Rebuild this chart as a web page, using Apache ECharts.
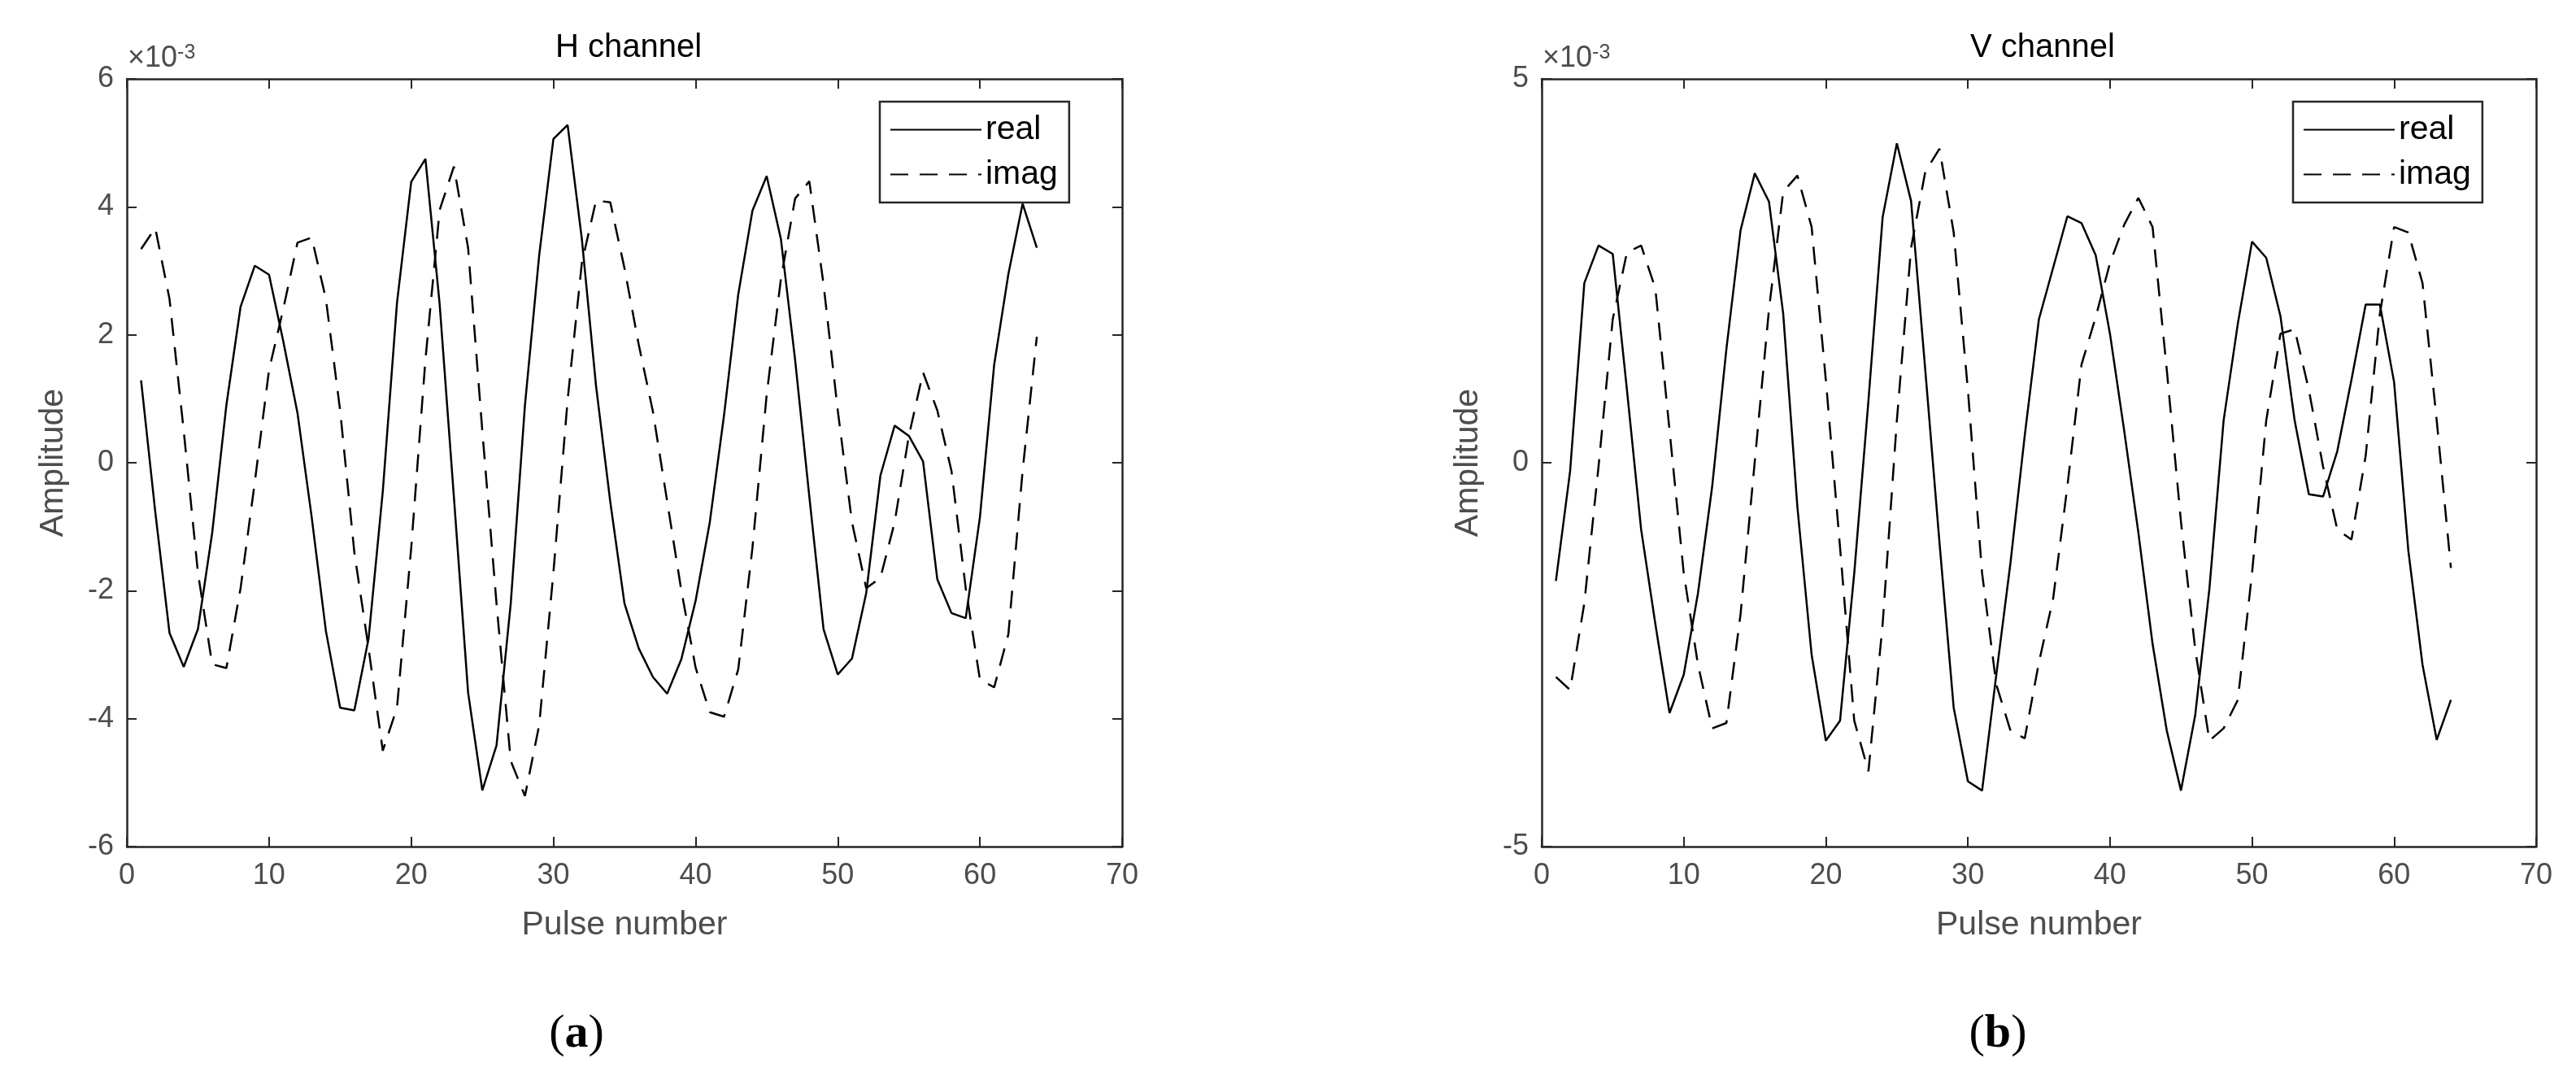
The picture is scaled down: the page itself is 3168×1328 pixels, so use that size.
<!DOCTYPE html>
<html>
<head>
<meta charset="utf-8">
<script src="https://cdn.jsdelivr.net/npm/echarts@6/dist/echarts.min.js"></script>
<style>html,body{margin:0;background:#fff}#c{width:3168px;height:1328px}</style>
</head>
<body>
<div id="c"></div>
<script>
// amplitudes in units of 1e-3
const pulses = Array.from({ length: 64 }, (_, i) => i + 1);

const hReal = [1.29, -0.77, -2.66, -3.19, -2.6, -1.1, 0.9, 2.44, 3.08, 2.94, 1.9, 0.78, -0.85, -2.63, -3.83, -3.87,
  -2.75, -0.45, 2.5, 4.39, 4.75, 2.48, -0.53, -3.59, -5.12, -4.42, -2.2, 0.9, 3.24, 5.06, 5.28, 3.5,
  1.2, -0.61, -2.2, -2.9, -3.35, -3.61, -3.07, -2.16, -0.93, 0.74, 2.63, 3.94, 4.48, 3.5, 1.61, -0.53,
  -2.6, -3.31, -3.06, -2.04, -0.2, 0.58, 0.42, 0.02, -1.82, -2.35, -2.43, -0.85, 1.53, 2.95, 4.05, 3.36];
const hImag = [3.34, 3.67, 2.56, 0.5, -1.72, -3.15, -3.21, -1.96, -0.3, 1.45, 2.4, 3.44, 3.52, 2.56, 0.82, -1.4,
  -2.9, -4.5, -3.83, -1.33, 1.61, 3.95, 4.63, 3.36, 0.5, -2.2, -4.66, -5.21, -4.1, -1.72, 0.98, 3.12,
  4.1, 4.07, 3.04, 1.85, 0.8, -0.6, -2.0, -3.2, -3.9, -3.97, -3.23, -1.33, 1.06, 2.87, 4.13, 4.4,
  2.79, 0.82, -0.93, -1.96, -1.8, -0.93, 0.42, 1.41, 0.82, -0.13, -1.96, -3.39, -3.51, -2.68, -0.13, 1.97];

const vReal = [-1.54, -0.11, 2.34, 2.83, 2.72, 0.95, -0.87, -2.1, -3.26, -2.76, -1.7, -0.31, 1.48, 3.03, 3.77, 3.4,
  1.94, -0.58, -2.5, -3.62, -3.36, -1.44, 0.81, 3.2, 4.16, 3.41, 1.21, -1.04, -3.19, -4.15, -4.27, -2.76,
  -1.3, 0.35, 1.87, 2.54, 3.21, 3.12, 2.7, 1.68, 0.42, -0.91, -2.36, -3.49, -4.27, -3.29, -1.64, 0.55,
  1.81, 2.88, 2.67, 1.91, 0.55, -0.41, -0.44, 0.15, 1.08, 2.06, 2.06, 1.05, -1.14, -2.63, -3.61, -3.09];
const vImag = [-2.79, -2.96, -1.83, -0.05, 1.87, 2.74, 2.83, 2.27, 0.42, -1.44, -2.63, -3.46, -3.39, -1.97, 0.02, 2.0,
  3.53, 3.74, 3.07, 1.08, -1.1, -3.36, -4.02, -2.1, 0.55, 2.8, 3.79, 4.09, 3.0, 0.95, -1.44, -2.89,
  -3.49, -3.59, -2.6, -1.77, -0.31, 1.28, 1.9, 2.6, 3.1, 3.45, 3.07, 1.21, -0.77, -2.43, -3.62, -3.46,
  -3.09, -1.44, 0.55, 1.68, 1.74, 0.95, -0.05, -0.87, -1.0, 0.09, 1.94, 3.07, 3.0, 2.34, 0.55, -1.37];

const ink = '#262626';
const gray = '#4d4d4d';
const font = 'Arial, "Liberation Sans", Helvetica, sans-serif';

const grids = [
  { left: 156, width: 1224, top: 97, height: 944 },
  { left: 1896, width: 1223, top: 97, height: 944 }
];

const xAxes = [];
const yAxes = [];
const series = [];

function addPanel(gi, yMin, yMax, yStep, real, imag) {
  const tick = { show: true, inside: true, length: 12, lineStyle: { color: ink, width: 2 } };
  const line = { show: true, onZero: false, lineStyle: { color: ink, width: 2.5 } };
  xAxes.push({
    gridIndex: gi, type: 'value', min: 0, max: 70, interval: 10, position: 'bottom',
    name: 'Pulse number', nameLocation: 'middle', nameGap: 76,
    nameTextStyle: { color: gray, fontSize: 41, fontFamily: font },
    axisLine: line, axisTick: tick, splitLine: { show: false },
    axisLabel: { color: gray, fontSize: 36, fontFamily: font, margin: 18 }
  });
  xAxes.push({
    gridIndex: gi, type: 'value', min: 0, max: 70, interval: 10, position: 'top',
    axisLine: line, axisTick: tick, splitLine: { show: false }, axisLabel: { show: false }
  });
  yAxes.push({
    gridIndex: gi, type: 'value', min: yMin, max: yMax, interval: yStep, position: 'left',
    name: 'Amplitude', nameLocation: 'middle', nameGap: 70,
    nameTextStyle: { color: gray, fontSize: 41, fontFamily: font },
    axisLine: line, axisTick: tick, splitLine: { show: false },
    axisLabel: { color: gray, fontSize: 36, fontFamily: font, margin: 16 }
  });
  yAxes.push({
    gridIndex: gi, type: 'value', min: yMin, max: yMax, interval: yStep, position: 'right',
    axisLine: line, axisTick: tick, splitLine: { show: false }, axisLabel: { show: false }
  });
  const xi = gi * 2, yi = gi * 2;
  series.push({
    name: 'real', type: 'line', xAxisIndex: xi, yAxisIndex: yi, showSymbol: false, symbol: 'none',
    data: pulses.map((p, i) => [p, real[i]]),
    lineStyle: { color: '#000', width: 2.5, type: 'solid' }, itemStyle: { color: '#000' }
  });
  series.push({
    name: 'imag', type: 'line', xAxisIndex: xi, yAxisIndex: yi, showSymbol: false, symbol: 'none',
    data: pulses.map((p, i) => [p, imag[i]]),
    lineStyle: { color: '#000', width: 2.5, type: [22, 14] }, itemStyle: { color: '#000' }
  });
}

addPanel(0, -6, 6, 2, hReal, hImag);
addPanel(1, -5, 5, 5, vReal, vImag);

const legendBase = {
  orient: 'vertical', top: 125, itemWidth: 112, itemHeight: 14, itemGap: 14,
  padding: [14, 14, 14, 12], borderColor: ink, borderWidth: 2.5, backgroundColor: '#fff',
  itemStyle: { opacity: 0 },
  textStyle: { color: '#000', fontSize: 41, fontFamily: font },
  data: ['real', 'imag']
};

const sup = {
  rich: {
    b: { fontSize: 36, color: gray, fontFamily: font, fontWeight: 'normal' },
    s: { fontSize: 25, color: gray, fontFamily: font, fontWeight: 'normal', verticalAlign: 'top', padding: [0, 0, 14, 0] }
  }
};

const serif = '"Liberation Serif", "DejaVu Serif", serif';
const chart = echarts.init(document.getElementById('c'));
chart.setOption({
  backgroundColor: '#fff',
  animation: false,
  title: [
    { text: 'H channel', left: 768, top: 34, textAlign: 'center', textStyle: { color: '#000', fontSize: 40, fontWeight: 'normal', fontFamily: font } },
    { text: 'V channel', left: 2507, top: 34, textAlign: 'center', textStyle: { color: '#000', fontSize: 40, fontWeight: 'normal', fontFamily: font } },
    { text: '{b|×10}{s|-3}', left: 152, top: 48, textStyle: sup },
    { text: '{b|×10}{s|-3}', left: 1892, top: 48, textStyle: sup },
    { text: '({b|a})', left: 704, top: 1238, textAlign: 'center', textStyle: { color: '#000', fontSize: 58, fontWeight: 'normal', fontFamily: serif, rich: { b: { fontSize: 58, fontWeight: 'bold', fontFamily: serif } } } },
    { text: '({b|b})', left: 2452, top: 1238, textAlign: 'center', textStyle: { color: '#000', fontSize: 58, fontWeight: 'normal', fontFamily: serif, rich: { b: { fontSize: 58, fontWeight: 'bold', fontFamily: serif } } } }
  ],
  legend: [
    Object.assign({}, legendBase, { left: 1082, seriesIndex: [0, 1] }),
    Object.assign({}, legendBase, { left: 2820 })
  ],
  grid: grids,
  xAxis: xAxes,
  yAxis: yAxes,
  series: series
});
</script>
</body>
</html>
